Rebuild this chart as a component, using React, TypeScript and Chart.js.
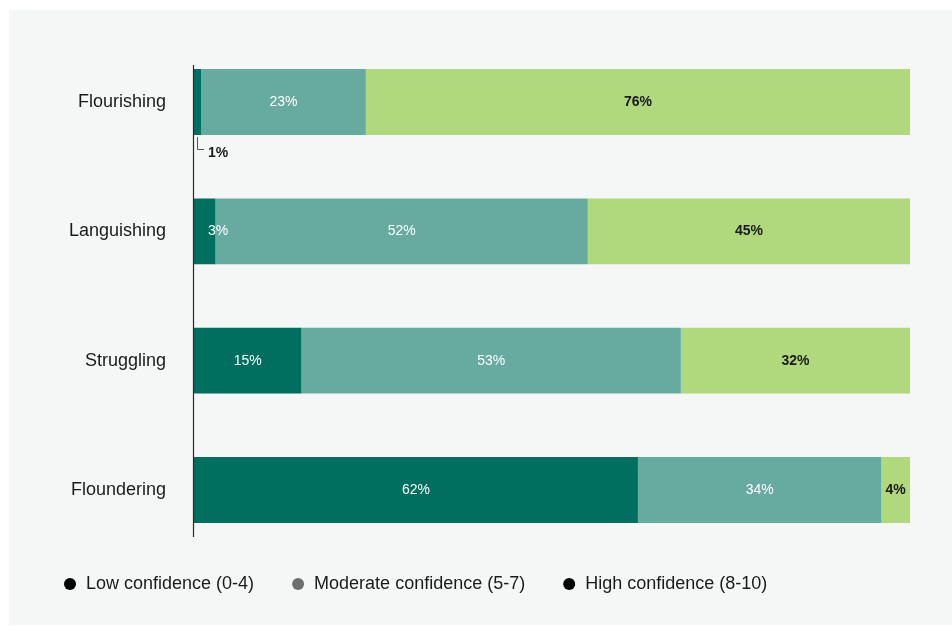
import { useEffect, useRef } from "react";
import { Chart, registerables } from "chart.js";

Chart.register(...registerables);

const categories = ["Flourishing", "Languishing", "Struggling", "Floundering"];
const lowConfidence = [1, 3, 15, 62];
const moderateConfidence = [23, 52, 53, 34];
const highConfidence = [76, 45, 32, 4];
const seriesNames = ["Low confidence (0-4)", "Moderate confidence (5-7)", "High confidence (8-10)"];
const seriesColors = ["#006f5f", "#66aaa0", "#b0d87c"];
const labelColors = ["#ffffff", "#ffffff", "#1a1a1a"];
const labelWeights = ["normal", "normal", "bold"];
const legendDotColors = ["#000000", "#6e6e6e", "#000000"];

const FONT = "'Liberation Sans', Arial, Helvetica, sans-serif";

const segLabels = {
  id: "segLabels",
  afterDatasetsDraw(chart: any) {
    const ctx = chart.ctx;
    ctx.save();
    ctx.textBaseline = "middle";
    chart.data.datasets.forEach((ds: any, di: number) => {
      const meta = chart.getDatasetMeta(di);
      meta.data.forEach((bar: any, i: number) => {
        const v = ds.data[i];
        const text = v + "%";
        const p = bar.getProps(["x", "y", "base", "height"], true);
        const w = p.x - p.base;
        ctx.font = labelWeights[di] + " 14px " + FONT;
        const tw = ctx.measureText(text).width;
        ctx.fillStyle = labelColors[di];
        if (w < 12) {
          const bottom = p.y + p.height / 2;
          ctx.strokeStyle = "#555555";
          ctx.lineWidth = 1;
          ctx.beginPath();
          ctx.moveTo(p.base + 3.5, bottom + 2);
          ctx.lineTo(p.base + 3.5, bottom + 14.5);
          ctx.lineTo(p.base + 10, bottom + 14.5);
          ctx.stroke();
          ctx.fillStyle = "#1a1a1a";
          ctx.font = "bold 14px " + FONT;
          ctx.textAlign = "left";
          ctx.fillText(text, p.base + 14, bottom + 18);
        } else if (w < tw + 6) {
          ctx.textAlign = "left";
          ctx.fillText(text, p.base + 14, p.y);
        } else {
          ctx.textAlign = "center";
          ctx.fillText(text, (p.x + p.base) / 2, p.y);
        }
      });
    });
    ctx.restore();
  },
};

const axisLine = {
  id: "axisLine",
  afterDatasetsDraw(chart: any) {
    const ctx = chart.ctx;
    const meta = chart.getDatasetMeta(0);
    const first = meta.data[0].getProps(["y", "height"], true);
    const last = meta.data[meta.data.length - 1].getProps(["y", "height"], true);
    const x = chart.chartArea.left - 0.5;
    ctx.save();
    ctx.strokeStyle = "#2a2a2a";
    ctx.lineWidth = 1.2;
    ctx.beginPath();
    ctx.moveTo(x, first.y - first.height / 2 - 4);
    ctx.lineTo(x, last.y + last.height / 2 + 14);
    ctx.stroke();
    ctx.restore();
  },
};

const customLegend = {
  id: "customLegend",
  afterDraw(chart: any) {
    const ctx = chart.ctx;
    ctx.save();
    ctx.font = "18px " + FONT;
    ctx.textBaseline = "middle";
    ctx.textAlign = "left";
    let x = 61;
    const y = chart.chartArea.bottom + 29.5;
    seriesNames.forEach((name, i) => {
      ctx.fillStyle = legendDotColors[i];
      ctx.beginPath();
      ctx.arc(x, y, 6, 0, Math.PI * 2);
      ctx.fill();
      ctx.fillStyle = "#1a1a1a";
      ctx.fillText(name, x + 16, y);
      x += 16 + ctx.measureText(name).width + 44;
    });
    ctx.restore();
  },
};

export default function App() {
  const ref = useRef<HTMLCanvasElement>(null);
  useEffect(() => {
    if (!ref.current) return;
    const values = [lowConfidence, moderateConfidence, highConfidence];
    const chart = new Chart(ref.current, {
      type: "bar",
      data: {
        labels: categories,
        datasets: values.map((d, i) => ({
          label: seriesNames[i],
          data: d,
          backgroundColor: seriesColors[i],
          borderWidth: 0,
          barPercentage: 1,
          categoryPercentage: 0.51,
        })),
      },
      options: {
        indexAxis: "y",
        animation: false,
        responsive: false,
        devicePixelRatio: 1,
        layout: { padding: { top: 27.4, right: 42, bottom: 70.4, left: 0 } },
        plugins: {
          legend: { display: false },
          tooltip: { enabled: false },
        },
        scales: {
          x: { stacked: true, min: 0, max: 100, display: false },
          y: {
            stacked: true,
            grid: { display: false, drawTicks: false },
            border: { display: false },
            ticks: {
              padding: 28,
              color: "#1a1a1a",
              font: { size: 18, family: FONT },
            },
            afterFit: (scale: any) => {
              scale.width = 185;
              scale.paddingTop = 0;
              scale.paddingBottom = 0;
            },
          },
        },
      },
      plugins: [segLabels, axisLine, customLegend],
    } as any);
    return () => chart.destroy();
  }, []);
  return (
    <div
      style={{
        position: "absolute",
        left: 9,
        top: 10,
        width: 943,
        height: 615,
        background: "#f5f7f6",
      }}
    >
      <canvas ref={ref} width={943} height={615} style={{ display: "block" }} />
    </div>
  );
}
